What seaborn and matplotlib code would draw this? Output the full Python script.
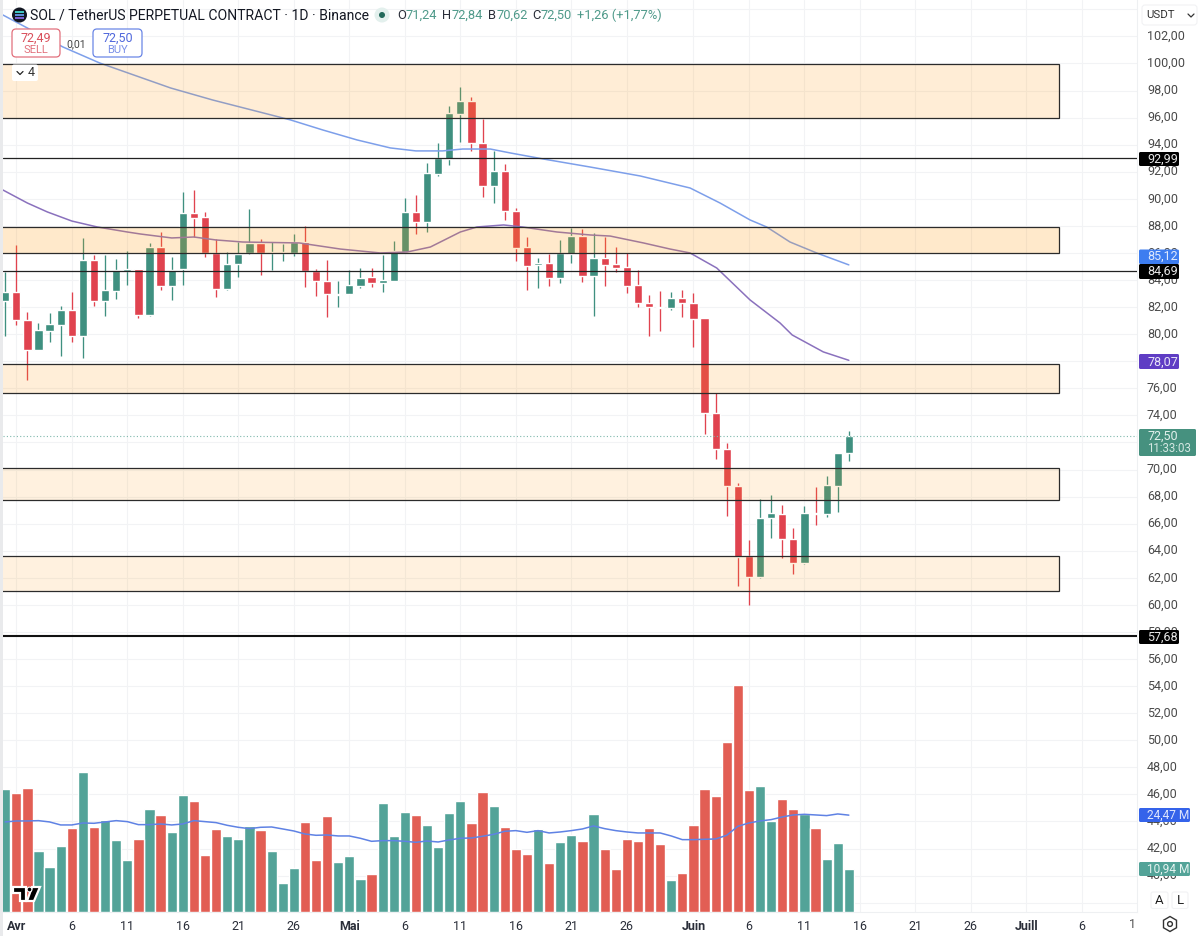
import numpy as np
import pandas as pd
import seaborn as sns
import matplotlib.pyplot as plt
import matplotlib.transforms as mtransforms
from matplotlib.patches import Rectangle, FancyBboxPatch, Circle, Polygon, RegularPolygon

# candles, one per day from 31 March (day 0) to 15 June (day 76)
opens = [82.43, 83.09, 81.05, 78.83, 80.26, 80.70, 81.81, 79.89, 85.46, 82.43, 83.21, 84.64, 84.84, 81.39, 86.42,
         83.58, 84.79, 88.98, 88.66, 86.02, 83.31, 85.16, 85.97, 86.71, 86.00, 86.00, 85.97, 86.78, 84.69, 83.93,
         82.92, 82.94, 83.58, 84.20, 83.76, 83.95, 86.09, 89.03, 88.31, 91.86, 92.92, 96.27, 97.20, 94.15, 90.96,
         92.03, 89.10, 86.42, 85.11, 85.26, 84.15, 85.95, 87.25, 84.30, 85.66, 85.16, 84.97, 83.61, 82.33, 82.04,
         81.91, 82.65, 82.33, 81.17, 74.15, 71.54, 68.81, 63.61, 62.06, 66.42, 66.74, 64.89, 63.07, 66.81, 66.72,
         68.81, 71.24]
highs = [84.62, 86.56, 81.61, 80.85, 81.54, 82.08, 83.12, 87.11, 85.85, 85.85, 85.58, 86.17, 84.84, 86.71, 87.55,
         85.73, 90.50, 90.65, 89.05, 87.01, 86.10, 86.79, 89.22, 87.03, 86.84, 86.66, 87.40, 88.02, 84.84, 85.45,
         83.93, 84.77, 84.89, 84.89, 85.82, 86.86, 90.06, 90.31, 92.67, 94.10, 96.83, 98.29, 97.55, 95.92, 93.56,
         92.55, 89.35, 87.18, 85.65, 85.90, 86.96, 87.87, 87.75, 87.45, 87.21, 86.47, 85.98, 84.75, 82.90, 83.17,
         83.10, 83.29, 83.05, 81.17, 75.63, 71.99, 68.98, 64.77, 67.82, 68.09, 67.38, 65.66, 67.33, 68.74, 69.52,
         71.22, 72.84]
lows = [79.89, 80.68, 76.61, 78.80, 79.45, 78.39, 79.45, 78.26, 82.11, 81.34, 82.60, 83.66, 81.22, 81.37, 83.24,
        82.55, 83.63, 87.20, 85.68, 82.72, 83.29, 84.20, 85.92, 84.40, 84.72, 85.43, 85.78, 83.51, 82.84, 81.27,
        82.03, 82.94, 83.39, 83.51, 83.12, 83.95, 86.07, 87.40, 87.55, 91.71, 92.50, 94.17, 93.56, 90.13, 89.72,
        88.41, 85.41, 83.24, 83.39, 83.56, 83.76, 85.23, 83.88, 81.35, 83.59, 84.62, 83.07, 82.04, 79.89, 80.26,
        81.79, 81.27, 79.03, 72.65, 70.80, 66.59, 61.42, 59.99, 61.96, 64.92, 63.44, 62.31, 63.05, 65.88, 66.52,
        66.84, 70.62]
closes = [83.09, 81.05, 78.83, 80.28, 80.75, 81.76, 79.86, 85.48, 82.43, 83.24, 84.72, 84.84, 81.39, 86.42, 83.58,
          84.77, 88.98, 88.61, 86.00, 83.34, 85.18, 85.95, 86.71, 85.97, 86.05, 86.05, 86.79, 84.64, 83.90, 82.94,
          82.99, 83.61, 84.17, 83.76, 84.00, 86.14, 89.03, 88.29, 91.91, 92.99, 96.32, 97.20, 94.10, 90.96, 92.03,
          89.08, 86.39, 85.04, 85.28, 84.15, 86.00, 87.25, 84.30, 85.66, 85.11, 84.89, 83.59, 82.31, 81.99, 81.94,
          82.65, 82.28, 81.15, 74.15, 71.49, 68.76, 63.51, 62.06, 66.45, 66.77, 64.87, 63.07, 66.81, 66.74, 68.86,
          71.22, 72.50]
volumes = [31.17, 30.08, 31.42, 15.42, 11.29, 16.76, 21.15, 35.30, 21.57, 23.34, 18.28, 13.23, 18.53, 26.12, 24.43,
           20.22, 29.65, 28.14, 14.32, 20.89, 19.12, 18.53, 21.82, 20.72, 15.42, 7.33, 11.04, 22.66, 13.23, 24.18,
           12.64, 14.15, 8.42, 9.52, 27.63, 19.12, 25.27, 24.60, 21.99, 16.34, 25.02, 28.14, 22.49, 30.33, 26.79,
           21.40, 15.84, 14.74, 20.89, 12.38, 17.61, 19.38, 17.86, 24.85, 15.84, 10.87, 18.53, 18.03, 21.15, 17.19,
           8.00, 9.94, 21.99, 31.17, 29.23, 42.97, 57.37, 30.92, 31.76, 23.08, 28.56, 26.12, 24.68, 21.31, 13.48,
           17.35, 10.94]
volume_ma = [22.75, 23.00, 23.00, 23.08, 22.75, 21.99, 21.99, 22.49, 22.41, 22.75, 23.08, 22.83, 22.07, 22.07, 22.24,
             21.99, 22.24, 23.08, 22.83, 22.58, 21.90, 21.40, 21.06, 21.40, 21.48, 20.98, 20.47, 19.71, 19.38, 19.46,
             19.21, 19.21, 18.62, 17.86, 18.03, 18.03, 17.86, 17.61, 17.94, 17.69, 18.20, 18.62, 18.70, 19.12, 19.63,
             20.39, 20.56, 20.13, 20.56, 19.97, 20.22, 20.56, 20.98, 21.74, 21.06, 20.56, 20.22, 19.97, 19.97, 19.97,
             19.21, 18.28, 18.28, 18.37, 18.45, 19.38, 21.65, 22.49, 23.00, 23.34, 24.01, 24.52, 24.68, 24.52, 24.35,
             24.77, 24.47]

# moving averages, read at these days only
ma_blue_days = [-0.2, 5.2, 8.5, 14.9, 18.7, 25.7, 28.6, 31.7, 34.7, 37, 39.4, 41.2, 43.7, 45.5, 48.5, 52.7, 57.2,
                61.7, 64.4, 67.1, 68.6, 70.7, 73.1, 76]
ma_blue = [103.58, 101.22, 100.04, 98.19, 97.30, 95.83, 95.09, 94.35, 93.76, 93.54, 93.54, 93.68, 93.68, 93.39,
           92.94, 92.35, 91.69, 90.80, 89.69, 88.44, 87.92, 86.81, 86.00, 85.12]
ma_purple_days = [-0.2, 2, 3.8, 6, 8.3, 11, 12.2, 15, 17, 19, 21.4, 26.5, 30.2, 33.8, 36.2, 38.3, 41, 42.5, 44.9, 46.6,
                  49.7, 52.7, 54.5, 57.5, 59.9, 61.7, 64.1, 67.1, 69.8, 70.9, 73.7, 76]
ma_purple = [90.65, 89.69, 89.03, 88.36, 87.92, 87.55, 87.40, 87.11, 87.18, 86.96, 86.81, 86.74, 86.29, 86.00, 86.07,
             86.44, 87.55, 87.92, 88.07, 87.92, 87.55, 87.33, 87.25, 86.74, 86.29, 86.00, 84.89, 82.53, 80.83, 79.94,
             78.69, 78.07]

# drawn zones and levels
zone_low = [95.95, 85.98, 75.63, 67.75, 61.05]
zone_high = [99.96, 87.94, 77.80, 70.11, 63.62]
zone_alpha = [0.17, 0.21, 0.16, 0.13, 0.13]
levels = [92.99, 84.69]
strong_level = 57.68
last_price = 72.50

tick_days = [1, 6, 11, 16, 21, 26, 31, 36, 41, 46, 51, 56, 62, 67, 72, 77, 82, 87, 92, 97]
tick_names = ['Avr', '6', '11', '16', '21', '26', 'Mai', '6', '11', '16', '21', '26', 'Juin', '6', '11', '16', '21',
              '26', 'Juill', '6']
month_names = ['Avr', 'Mai', 'Juin', 'Juill']
price_ticks = list(range(38, 106, 2))
hidden_ticks = [38, 72, 104]  # 72,00 sits fully behind the last price tag

UP = '#3f9080'
DOWN = '#e0434f'
VOL_UP = '#53a398'
VOL_DOWN = '#e25e54'
TEXT = '#2a2e39'

df = pd.DataFrame({'day': np.arange(len(closes)), 'open': opens, 'high': highs, 'low': lows, 'close': closes,
                   'volume': volumes, 'volume_ma': volume_ma})
df['side'] = np.where(df['close'] >= df['open'], 'up', 'down')
df['bottom'] = df[['open', 'close']].min(axis=1)
df['body'] = (df['close'] - df['open']).abs().clip(lower=0.08)

sns.set_theme(style="white")
plt.rcParams['font.family'] = ['Roboto', 'DejaVu Sans']

fig = plt.figure(figsize=(12, 9.36), dpi=100)
# pixel coordinates of the image, origin top left
px = mtransforms.Affine2D().scale(1 / 1200, -1 / 936).translate(0, 1) + fig.transFigure

rect = [3 / 1200, (936 - 912) / 936, 1134 / 1200, 912 / 936]
ax = fig.add_axes(rect, zorder=1)
ax_vol = fig.add_axes(rect, zorder=2)
ax_vol.patch.set_visible(False)

xlim = (-0.198, 101.96)

# volume pane
sns.barplot(data=df, x='day', y='volume', hue='side', palette={'up': VOL_UP, 'down': VOL_DOWN}, dodge=False,
            native_scale=True, width=0.92, saturation=1, legend=False, ax=ax_vol)
sns.lineplot(data=df, x='day', y='volume_ma', color='#5f82e4', lw=1.1, ax=ax_vol)
ax_vol.set_xlim(xlim)
ax_vol.set_ylim(0, 230.4)
ax_vol.axis('off')

# candles
colors = df['side'].map({'up': UP, 'down': DOWN})
ax.vlines(df['day'], df['low'], df['high'], colors=colors, lw=0.95, zorder=2)
ax.bar(df['day'], df['body'], bottom=df['bottom'], width=0.74, color=colors, zorder=2.5)

sns.lineplot(x=ma_blue_days, y=ma_blue, color='#7d9fea', lw=1.1, ax=ax, zorder=3)
sns.lineplot(x=ma_purple_days, y=ma_purple, color='#8a71bd', lw=1.1, ax=ax, zorder=3)

for low, high, a in zip(zone_low, zone_high, zone_alpha):
    ax.add_patch(Rectangle((xlim[0] - 1, low), 96.1, high - low, facecolor=(1, 0.6, 0.05, a), edgecolor='#2b2b2b',
                           lw=0.9, zorder=4))
for level in levels:
    ax.axhline(level, color='#222222', lw=0.9, zorder=5)
ax.axhline(strong_level, color='#111111', lw=1.5, zorder=5)
ax.axhline(last_price, color='#7fb8ac', lw=0.8, ls=(0, (1, 2)), zorder=5)

ax.set_xlim(xlim)
ax.set_ylim(37.31, 104.69)
ax.set_xticks(tick_days)
ax.set_xticklabels(tick_names, fontsize=9, color=TEXT)
for label in ax.get_xticklabels():
    if label.get_text() in month_names:
        label.set_fontweight('bold')
ax.yaxis.tick_right()
ax.set_yticks(price_ticks)
ax.set_yticklabels(['' if p in hidden_ticks else f'{p},00' for p in price_ticks], fontsize=9, color='#4a4a4a',
                   va='center')
ax.tick_params(axis='both', length=0)
ax.tick_params(axis='y', pad=7.2)
ax.tick_params(axis='x', pad=6)
ax.grid(True, color='#f2f3f5', lw=0.8)
ax.set_axisbelow(True)
ax.set_xlabel('')
ax.set_ylabel('')
for side in ['top', 'left']:
    ax.spines[side].set_visible(False)
for side in ['bottom', 'right']:
    ax.spines[side].set_color('#eef0f2')
    ax.spines[side].set_linewidth(0.8)


def txt(x, y, s, size=9, color=TEXT, ha='left', weight='normal'):
    fig.text(x, y, s, transform=px, fontsize=size, color=color, ha=ha, va='center', fontweight=weight, zorder=22)


def box(x0, y0, x1, y1, fc='white', ec='none', lw=0.8, r=3):
    fig.add_artist(FancyBboxPatch((x0, y0), x1 - x0, y1 - y0, boxstyle=f'round,pad=0,rounding_size={r}', transform=px,
                                  facecolor=fc, edgecolor=ec, lw=lw, zorder=20))


# value tags on the price scale
box(1139, 152, 1179, 166, fc='black', r=1.5)
txt(1147, 159, '92,99', color='#e8e8e8')
box(1139, 249.5, 1179, 264, fc='#3d7df0', r=1.5)
txt(1147, 256.5, '85,12', color='#dfe9fd')
box(1139, 264, 1179, 279, fc='black', r=1.5)
txt(1147, 271, '84,69', color='#e8e8e8')
box(1139, 354, 1179, 369, fc='#5f3dc4', r=1.5)
txt(1147, 362, '78,07', color='#e8e4f7')
box(1139, 429, 1196, 456, fc='#46917f', r=1.5)
txt(1147, 436, '72,50', color='#e2f0ec')
txt(1147, 448.5, '11:33:03', size=8.3, color='#d5e8e3')
box(1139, 630, 1179, 644, fc='black', r=1.5)
txt(1147, 637, '57,68', color='#e8e8e8')
box(1139, 808, 1190, 822, fc='#3563ea', r=1.5)
txt(1147, 815, '24,47 M', size=8.6, color='#dfe6fc')
box(1139, 862, 1190, 876, fc='#53a398', r=1.5)
txt(1147, 869, '10,94 M', size=8.6, color='#e5f3f0')

# header
fig.add_artist(Rectangle((0, 0), 3, 936, transform=px, facecolor='#e9eaec', edgecolor='none', zorder=19))
fig.add_artist(Circle((19.5, 15), 7.5, transform=px, facecolor='#131722', edgecolor='none', zorder=20))
for y, c in zip([12, 15, 18], ['#3fc6c0', '#5b8fd8', '#7b5fd0']):
    fig.add_artist(Rectangle((15, y - 0.8), 9, 1.6, transform=px, facecolor=c, edgecolor='none', zorder=21))
txt(30, 15.5, 'SOL / TetherUS PERPETUAL CONTRACT · 1D · Binance', size=10.05, color='#131722')
fig.add_artist(Circle((382, 15), 7.5, transform=px, facecolor='#e3f0ed', edgecolor='none', zorder=20))
fig.add_artist(Circle((382, 15), 3, transform=px, facecolor='#22695a', edgecolor='none', zorder=21))
for x, letter, value_x, value in [(397, 'O', 406, '71,24'), (442, 'H', 452, '72,84'), (488, 'B', 497, '70,62'),
                                  (532, 'C', 541, '72,50')]:
    txt(x, 15.5, letter, size=9.3, color='#2a2e39')
    txt(value_x, 15.5, value, size=9.3, color='#4f9a8a')
txt(577, 15.5, '+1,26 (+1,77%)', size=9.3, color='#4f9a8a')

box(12, 29, 60, 57, fc='white', ec='#e2707c', lw=0.9, r=4)
txt(36, 38, '72,49', size=9, color='#d9505c', ha='center')
txt(36, 50, 'SELL', size=8, color='#e2727d', ha='center')
txt(76, 44, '0,01', size=7.6, color='#444444', ha='center')
box(93, 29, 142, 57, fc='white', ec='#6a86e6', lw=0.9, r=4)
txt(117.5, 38, '72,50', size=9, color='#5068dc', ha='center')
txt(117.5, 50, 'BUY', size=8, color='#7a90e8', ha='center')

box(12, 64.5, 38, 81, fc='white', r=2)
fig.add_artist(plt.Line2D([17, 20, 23], [71.5, 74.5, 71.5], transform=px, color='#222222', lw=0.9, zorder=21))
txt(28, 73, '4', size=9, color='#333333')

box(1142, 5, 1197, 25, fc='white', ec='#f1f2f4', r=3)
txt(1146, 15, 'USDT', size=8.2, color='#333333')
fig.add_artist(plt.Line2D([1188, 1191, 1194], [14, 17, 14], transform=px, color='#333333', lw=0.9, zorder=21))

box(1151, 892, 1168, 908.5, fc='white', ec='#f1f2f4', r=2)
txt(1159.5, 900.5, 'A', size=9.5, color='#222222', ha='center')
box(1172, 892, 1188, 908.5, fc='white', ec='#f1f2f4', r=2)
txt(1180, 900.5, 'L', size=9.5, color='#222222', ha='center')
fig.add_artist(RegularPolygon((1170, 924), 6, radius=7.5, transform=px, facecolor='none', edgecolor='#333333', lw=1,
                              zorder=21))
fig.add_artist(Circle((1170, 924), 2.4, transform=px, facecolor='none', edgecolor='#333333', lw=1, zorder=21))
txt(1133, 924, '1', size=9, color='#555555', ha='center')

# logo
logo_parts = [[(13, 887), (26, 887), (26, 901), (20, 901), (20, 892.5), (13, 892.5)],
              [(32, 887), (40, 887), (34, 901), (27, 901)]]
for part in logo_parts:
    fig.add_artist(Polygon(part, closed=True, transform=px, facecolor='black', edgecolor='white', lw=1.6, zorder=21))
fig.add_artist(Circle((29.5, 889.5), 2.4, transform=px, facecolor='black', edgecolor='white', lw=0.8, zorder=21))

fig.savefig('out.png', dpi=100)
